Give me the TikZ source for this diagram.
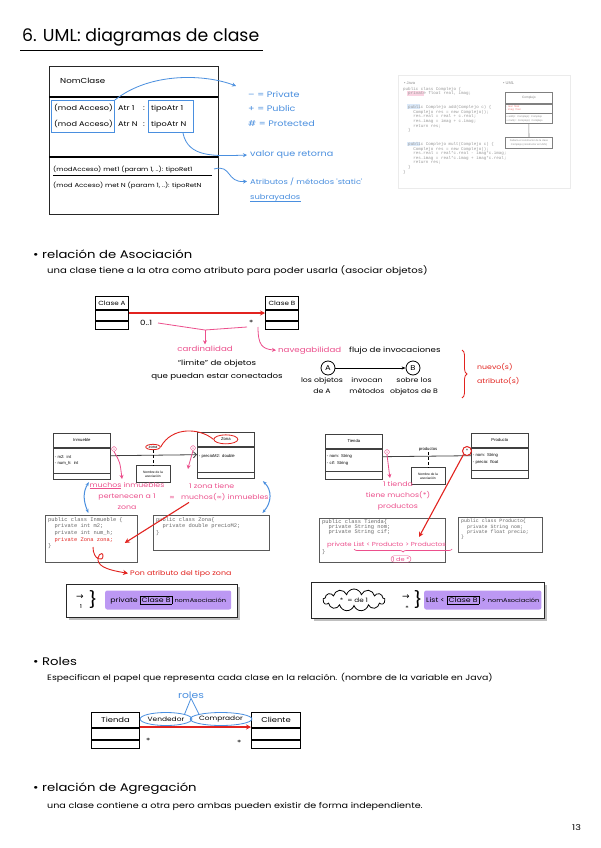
\documentclass[tikz,border=0pt]{standalone}
\usepackage{fontspec}
\setmainfont{Poppins}
\newfontfamily\hand[FakeStretch=1.2]{Poppins}
\newfontfamily\shot{Liberation Sans}
\newfontfamily\mono{Liberation Mono}
\newfontfamily\sym{DejaVu Sans}
\usetikzlibrary{arrows.meta,positioning,shapes.geometric,shapes.symbols,calc,decorations.pathreplacing}
\definecolor{nbblue}{HTML}{4A8FDF}
\definecolor{nbpink}{HTML}{EC4F8C}
\definecolor{nbred}{HTML}{E2231F}
\definecolor{nbpurple}{HTML}{BC98F3}
\setlength{\fboxsep}{1.2pt}
\setlength{\fboxrule}{0.6pt}

\begin{document}
\begin{tikzpicture}[
  x=1pt,y=-1pt,
  txt/.style={anchor=base west,inner sep=0pt,font=\hand\fontsize{7.2}{9}\selectfont},
  deftxt/.style={anchor=base west,inner sep=0pt,font=\hand\fontsize{8}{9}\selectfont},
  tiny/.style={inner sep=0pt,font=\hand\fontsize{6.5}{11}\selectfont},
  sect/.style={anchor=base west,inner sep=0pt,font=\hand\fontsize{11}{13}\selectfont},
  btxt/.style={anchor=base west,inner sep=0pt,text=nbblue,font=\hand\fontsize{8}{10}\selectfont},
  ptxt/.style={inner sep=0pt,text=nbpink,align=center,font=\hand\fontsize{6.5}{11}\selectfont},
  umlhead/.style={draw,line width=1pt,anchor=north west,minimum height=13pt,inner sep=1pt,font=\hand\fontsize{6}{8}\selectfont},
  umlcmp/.style={draw,line width=1pt,inner sep=0pt},
  shothead/.style={draw=black!75,line width=0.7pt,anchor=north west,minimum width=57pt,minimum height=14pt,inner sep=1pt,font=\shot\fontsize{4.2}{5}\selectfont},
  shotcmp/.style={draw=black!75,line width=0.7pt,minimum width=57pt,inner sep=1.5pt,text width=54pt,align=left,font=\shot\fontsize{4.2}{6.5}\selectfont},
  notebox/.style={draw=black!75,line width=0.6pt,minimum width=34pt,minimum height=17pt,inner sep=1pt,align=center,font=\shot\fontsize{3.3}{4.2}\selectfont},
  codebox/.style={draw=black!65,line width=0.8pt,anchor=north west,inner sep=0pt},
  codetxt/.style={anchor=north west,inner sep=0pt,align=left,text=black!60,font=\mono\fontsize{5.4}{6.7}\selectfont},
  panel/.style={draw=black!85,line width=0.9pt,anchor=north west},
  purp/.style={fill=nbpurple,rounded corners=2pt,minimum height=19pt,inner sep=2pt,font=\hand\fontsize{6.5}{8}\selectfont},
  barr/.style={draw=nbblue,line width=0.8pt,-{Stealth[length=4pt,width=4pt]}},
  parr/.style={draw=nbpink,line width=0.8pt,-{Stealth[length=4pt,width=4pt]}},
  rarr/.style={draw=nbred,line width=1.1pt,-{Stealth[length=5pt,width=5pt]}}
]
\fill[white] (0,0) rectangle (601,848);
\useasboundingbox (0,0) rectangle (601,848);

\node[anchor=base west,inner sep=0pt,font=\fontsize{17.3}{19}\selectfont] (title) at (22,42) {6. UML: diagramas de clase};
\draw[line width=1.2pt] (title.south west) ++(-2,4) -- ++(243,0);

\node[panel,minimum width=169pt,minimum height=148pt] (nomclase) at (49,66) {};
\node[txt] (nomname) at (60,84) {NomClase};
\draw[line width=1.8pt] (49,97) -- (218,97);
\draw[line width=1.8pt] (49,157) -- (218,157);
\node[txt,font=\hand\fontsize{6.8}{9}\selectfont] (acc1) at (54,111) {(mod Acceso)};
\node[txt,font=\hand\fontsize{6.8}{9}\selectfont] (atr1) at (118,111) {Atr 1};
\node[txt,font=\hand\fontsize{6.8}{9}\selectfont] (col1) at (143,111) {:};
\node[txt,font=\hand\fontsize{6.8}{9}\selectfont] (tip1) at (151,111) {tipoAtr 1};
\node[txt,font=\hand\fontsize{6.8}{9}\selectfont] (acc2) at (54,127) {(mod Acceso)};
\node[txt,font=\hand\fontsize{6.8}{9}\selectfont] (atr2) at (118,127) {Atr N};
\node[txt,font=\hand\fontsize{6.8}{9}\selectfont] (col2) at (143,127) {:};
\node[txt,font=\hand\fontsize{6.8}{9}\selectfont] (tip2) at (151,127) {tipoAtr N};
\node[draw=nbblue,line width=0.9pt,minimum width=63pt,minimum height=32pt,anchor=north west] (accbox) at (51,100) {};
\node[draw=nbblue,line width=0.9pt,minimum width=45pt,minimum height=32pt,anchor=north west] (tipbox) at (148,100) {};
\node[txt,font=\hand\fontsize{5.8}{7}\selectfont] (met1) at (53,171) {(modAcceso) met1 (param 1, ..): tipoRet1};
\draw[line width=0.6pt] (53,175) -- (212,175);
\node[txt,font=\hand\fontsize{5.8}{7}\selectfont] (metN) at (53,187) {(mod Acceso) met N (param 1, ..): tipoRetN};

\node[btxt] (lpriv) at (248,98) {– = Private};
\node[btxt] (lpub) at (248,112) {+ = Public};
\node[btxt] (lprot) at (248,126) {\# = Protected};
\coordinate (legin) at (236,86);
\draw[barr] (accbox.north east) .. controls (150,72) and (205,74) .. (legin);
\node[btxt] (retorna) at (250,157) {valor que retorna};
\draw[barr] ($(tipbox.south)+(12,0)$) .. controls (188,158) and (215,156) .. ([xshift=-3pt]retorna.west);
\node[btxt,font=\hand\fontsize{7}{9}\selectfont] (static) at (250,184) {Atributos / métodos 'static'};
\node[btxt,font=\hand\fontsize{7}{9}\selectfont] (subr) at (250,199) {subrayados};
\draw[nbblue,line width=0.6pt] (subr.south west) -- (subr.south east);
\draw[barr] (214,169) .. controls (232,164) and (226,183) .. ([xshift=-3pt]static.west);

\node[draw=black!8,minimum width=172pt,minimum height=113pt,anchor=north west] (javashot) at (398,75) {};
\fill[nbpink!25] (407,91) rectangle (424,96);
\fill[nbblue!20] (407,104.5) rectangle (420,109);
\fill[nbblue!20] (407,141.5) rectangle (420,146);
\node[anchor=base west,inner sep=0pt,text=black!45,font=\shot\fontsize{4}{5}\selectfont] (javalbl) at (404,85) {• Java};
\node[anchor=north west,inner sep=0pt,align=left,text=black!40,font=\mono\fontsize{4.2}{4.6}\selectfont] (javacode) at (403,87)
  {public class Complejo \{\\~~private float real, imag;\\~\\~\\~~public Complejo add(Complejo c) \{\\~~~~Complejo res = new Complejo();\\~~~~res.real = real + c.real;\\~~~~res.imag = imag + c.imag;\\~~~~return res;\\~~\}\\~\\~\\~~public Complejo mult(Complejo c) \{\\~~~~Complejo res = new Complejo();\\~~~~res.real = real*c.real - imag*c.imag;\\~~~~res.imag = real*c.imag + imag*c.real;\\~~~~return res;\\~~\}\\\}};
\node[anchor=base west,inner sep=0pt,text=black!45,font=\shot\fontsize{4}{5}\selectfont] (umllbl) at (503,85) {• UML};
\node[shothead,draw=black!50,text=black!50,minimum width=47pt,minimum height=11pt,font=\shot\fontsize{3.2}{4}\selectfont] (complejo) at (505,92) {Complejo};
\node[shotcmp,draw=black!50,minimum width=47pt,text width=45pt,inner sep=1pt,minimum height=9pt,below=0pt of complejo,text=nbred!60,font=\shot\fontsize{2.6}{3.2}\selectfont] (complejoA) {- real: float\\- imag: float};
\node[shotcmp,draw=black!50,minimum width=47pt,text width=45pt,inner sep=1pt,minimum height=10pt,below=0pt of complejoA,text=black!45,font=\shot\fontsize{2.6}{3.2}\selectfont] (complejoM) {+ add(c: Complejo): Complejo\\+ mult(c: Complejo): Complejo};
\node[notebox,draw=black!50,text=black!45,minimum width=47pt,minimum height=11pt,font=\shot\fontsize{2.6}{3.2}\selectfont,anchor=north] (complejonote) at (529,137) {Faltaría el constructor de la clase\\Complejo (constructor en UML)};
\draw[black!50,line width=0.6pt] (complejoM) -- (complejonote);

\node[sect] (asoc) at (33,258) {• relación de Asociación};
\node[deftxt,font=\hand\fontsize{8.4}{9}\selectfont] (asocdef) at (47,273) {una clase tiene a la otra como atributo para poder usarla (asociar objetos)};
\node[umlhead,minimum width=33pt] (claseA) at (95,296) {Clase A};
\node[umlcmp,minimum width=33pt,minimum height=10pt,below=0pt of claseA] (claseAattr) {};
\node[umlcmp,minimum width=33pt,minimum height=8pt,below=0pt of claseAattr] (claseAmet) {};
\node[umlhead,minimum width=33pt] (claseB) at (265,296) {Clase B};
\node[umlcmp,minimum width=33pt,minimum height=10pt,below=0pt of claseB] (claseBattr) {};
\node[umlcmp,minimum width=33pt,minimum height=8pt,below=0pt of claseBattr] (claseBmet) {};
\draw[rarr] ([yshift=-3pt]claseA.south east) -- ([yshift=-3pt]claseB.south west);
\node[txt] (cardA) at (140,325) {0..1};
\node[txt] (cardB) at (249,325) {*};
\coordinate (cardtip) at (205,330);
\draw[nbpink,line width=0.8pt] (158,323) -- (cardtip) -- (247,327);
\node[txt,text=nbpink,anchor=base] (cardlbl) at (205,351) {cardinalidad};
\draw[parr] (cardtip) -- ([yshift=1pt]cardlbl.north);
\node[txt,anchor=base] (limite) at (217,365) {“limite” de objetos};
\node[txt,anchor=base] (conect) at (217,378) {que puedan estar conectados};
\node[txt,text=nbpink] (naveg) at (278,352) {navegabilidad};
\node[txt] (flujo) at (349,352) {flujo de invocaciones};
\draw[parr] (258,327) .. controls (258,345) and (262,349) .. ([xshift=-2pt]naveg.west);
\node[circle,draw,line width=0.8pt,minimum size=14pt,inner sep=0pt,font=\hand\fontsize{7}{8}\selectfont] (objA) at (328,368) {A};
\node[circle,draw,line width=0.8pt,minimum size=14pt,inner sep=0pt,font=\hand\fontsize{7}{8}\selectfont] (objB) at (413,368) {B};
\draw[line width=0.8pt,-{Stealth[length=4pt]}] (objA) -- (objB);
\node[tiny,anchor=north,align=center] (losobj) at (322,377) {los objetos\\de A};
\node[tiny,anchor=north,align=center] (invocan) at (367,377) {invocan\\métodos};
\node[tiny,anchor=north,align=center] (sobre) at (414,377) {sobre los\\objetos de B};
\draw[nbred,line width=0.8pt,decorate,decoration={brace,amplitude=5pt}] (462,350) -- (462,398);
\node[txt,text=nbred,font=\hand\fontsize{6.5}{8}\selectfont] (nuevos) at (477,369) {nuevo(s)};
\node[txt,text=nbred,font=\hand\fontsize{6.5}{8}\selectfont] (atribs) at (477,383) {atributo(s)};

\node[shothead] (inmueble) at (53,433) {Inmueble};
\node[shotcmp,minimum height=25pt,below=0pt of inmueble] (inmuebleA) {- m2: int\\- num\_h: int};
\node[shotcmp,minimum height=6pt,below=0pt of inmuebleA] (inmuebleM) {};
\node[shothead] (zona) at (197,432) {Zona};
\node[shotcmp,minimum height=25pt,below=0pt of zona] (zonaA) {- precioM2: double\\~};
\node[shotcmp,minimum height=6pt,below=0pt of zonaA] (zonaM) {};
\node[ellipse,draw=nbred,line width=0.8pt,minimum width=24pt,minimum height=9pt,inner sep=0pt] (zonacirc) at (zona.center) {};
\draw[line width=0.8pt,black!75,-{Straight Barb[length=3pt]}] ($(inmuebleA.north east)+(0,8)$) -- ($(zonaA.north west)+(0,8)$);
\node[circle,draw=nbpink,inner sep=0.6pt,text=nbpink,font=\shot\fontsize{3.5}{4}\selectfont] (inm1) at (114,449) {1};
\node[circle,draw=nbpink,inner sep=0.6pt,text=nbpink,font=\shot\fontsize{3.5}{4}\selectfont] (zona1) at (193,448) {1};
\node[ellipse,draw=nbred,line width=0.8pt,inner sep=0.8pt,fill=white,font=\shot\fontsize{4}{5}\selectfont] (zonalbl) at (153,447) {zona};
\node[notebox] (zonanote) at (153,474) {Nombre de la\\asociación};
\draw[densely dashed,line width=0.6pt] (zonalbl) -- (zonanote);
\draw[nbred,line width=0.9pt] (zonalbl.east) .. controls (172,426) and (200,428) .. (zonacirc.west);
\draw[parr] (inm1.south) .. controls (120,462) .. (122,479);
\draw[parr] (zona1.south) .. controls (190,458) .. (188,469);
\node[ptxt,anchor=north] (muchos) at (127,482) {\underline{muchos} inmuebles\\pertenecen a 1\\zona};
\node[ptxt,anchor=base] (equiv) at (172,499) {\sym ∞};
\node[ptxt,anchor=base west] (zonatiene) at (189,488) {1 zona tiene};
\node[ptxt,anchor=base west] (zonamuchos) at (181,499) {muchos({\sym ∞}) inmuebles};
\node[codebox,minimum width=92pt,minimum height=47pt] (inmcode) at (45,515) {};
\node[codetxt] (inmcodetxt) at (48,517) {public class Inmueble \{\\~~private int m2;\\~~private int num\_h;\\\textcolor{nbred}{~~private Zona zona;}\\\}};
\node[codebox,minimum width=116pt,minimum height=35pt] (zcode) at (153,515) {};
\node[codetxt] (zcodetxt) at (156,517) {public class Zona\{\\~~private double precioM2;\\\}};
\draw[nbblue,line width=1pt,{Stealth[length=4pt]}-{Stealth[length=4pt]}] ($(inmuebleM.south)+(7,2)$) .. controls (83,492) and (83,500) .. ($(inmcode.north)+(-3,-2)$);
\draw[nbblue,line width=1pt,{Stealth[length=4pt]}-{Stealth[length=4pt]}] ($(zonaM.south)+(37,2)$) .. controls (272,490) and (272,502) .. ($(zcode.north)+(51,-2)$);
\draw[rarr] ($(zonamuchos.south west)+(8,2)$) -- ($(inmcode.east)+(-13,4)$);
\coordinate (curl) at (93,547);
\node[txt,text=nbred,font=\hand\fontsize{6.6}{8}\selectfont] (pontipo) at (130,575) {Pon atributo del tipo zona};
\draw[rarr,line width=0.9pt] (curl) .. controls (93,560) and (103,562) .. (103,556) .. controls (103,550) and (95,556) .. (99,563) .. controls (103,569) and (115,571) .. ([xshift=-2pt]pontipo.west);

\node[shothead] (tienda) at (325,434) {Tienda};
\node[shotcmp,minimum height=22pt,below=0pt of tienda] (tiendaA) {- nom: String\\- cif: String};
\node[shotcmp,minimum height=8pt,below=0pt of tiendaA] (tiendaM) {};
\node[shothead] (producto) at (471,433) {Producto};
\node[shotcmp,minimum height=22pt,below=0pt of producto] (productoA) {- nom: String\\- precio: float};
\node[shotcmp,minimum height=8pt,below=0pt of productoA] (productoM) {};
\draw[line width=0.8pt,black!75] ($(tiendaA.north east)+(0,8)$) -- ($(productoA.north west)+(0,8)$);
\node[font=\shot\fontsize{4.2}{5}\selectfont,inner sep=1pt,anchor=base] (prodlbl) at (428,450) {productos};
\node[notebox] (prodnote) at (428,476) {Nombre de la\\asociación};
\draw[densely dashed,line width=0.6pt] (prodlbl) -- (prodnote);
\node[circle,draw=nbpink,inner sep=0.6pt,text=nbpink,font=\shot\fontsize{3.5}{4}\selectfont] (tienda1) at (387,452) {1};
\node[circle,draw=nbred,line width=1pt,minimum size=9pt,inner sep=0pt,font=\shot\fontsize{5}{5}\selectfont] (prodstar) at (467,451) {*};
\draw[parr] (tienda1.south) .. controls (388,466) .. (390,478);
\node[ptxt,anchor=north] (tiendatiene) at (398,481) {1 tienda\\tiene muchos(*)\\productos};
\node[codebox,minimum width=126pt,minimum height=44pt] (tcode) at (319,518) {};
\node[codetxt,font=\mono\fontsize{5.4}{5.2}\selectfont] (tcodetxt) at (322,519) {public class Tienda\{\\~~private String nom;\\~~private String cif;};
\node[txt,text=nbpink,font=\hand\fontsize{5.8}{7}\selectfont] (listprod) at (327,546) {private List < Producto > Productos};
\node[codetxt] (tclose) at (322,549) {\}};
\draw[nbpink,line width=0.7pt,decorate,decoration={brace,amplitude=3pt,mirror}] (354,549) -- (452,549);
\node[txt,text=nbpink,font=\hand\fontsize{5.5}{7}\selectfont,anchor=base,draw=nbpink,rounded corners=3pt,inner sep=1.2pt] (unode) at (401,561) {1 de *};
\coordinate (listend) at (419,537);
\draw[rarr] (prodstar.south west) -- (listend);
\node[codebox,minimum width=84pt,minimum height=35pt] (pcode) at (458,517) {};
\node[codetxt,font=\mono\fontsize{4.9}{5.4}\selectfont] (pcodetxt) at (461,519) {public class Producto\{\\~~private String nom;\\~~private float precio;\\\}};

\node[panel,minimum width=171pt,minimum height=33pt] (privpanel) at (66,584) {};
\draw[black!25,line width=2pt] ($(privpanel.south west)+(3,1)$) -- ($(privpanel.south east)+(1,1)$) -- ($(privpanel.north east)+(1,3)$);
\node[inner sep=0pt,font=\sym\fontsize{9}{9}\selectfont] (arr1) at (80,597) {→};
\node[tiny,font=\hand\fontsize{5.5}{6}\selectfont] (one1) at (81,607) {1};
\node[inner sep=0pt,font=\hand\fontsize{16}{16}\selectfont] (br1) at (93,600) {\}};
\node[purp,minimum width=126pt,anchor=west] (privtag) at (105,600) {private \fbox{Clase B} {\fontsize{5.5}{6}\selectfont nomAsociación}};

\node[panel,minimum width=233pt,minimum height=36pt] (listpanel) at (311,582) {};
\draw[black!25,line width=2pt] ($(listpanel.south west)+(3,1)$) -- ($(listpanel.south east)+(1,1)$) -- ($(listpanel.north east)+(1,3)$);
\node[cloud,draw,line width=0.8pt,cloud puffs=13,aspect=3,minimum width=62pt,minimum height=22pt,inner sep=0pt,font=\hand\fontsize{6}{7}\selectfont] (cloudnote) at (354,600) {*~~= de 1};
\node[inner sep=0pt,font=\sym\fontsize{9}{9}\selectfont] (arr2) at (406,597) {→};
\node[tiny,font=\hand\fontsize{6}{6}\selectfont] (star2) at (407,608) {*};
\node[inner sep=0pt,font=\hand\fontsize{16}{16}\selectfont] (br2) at (418,600) {\}};
\node[purp,minimum width=112pt,anchor=west] (listtag) at (424,600) {List < \fbox{Clase B} > {\fontsize{5.5}{6}\selectfont nomAsociación}};

\node[sect] (roles) at (33,665) {• Roles};
\node[deftxt,font=\hand\fontsize{7.8}{9}\selectfont] (rolesdef) at (47,680) {Especifican el papel que representa cada clase en la relación. (nombre de la variable en Java)};
\node[inner sep=0pt,text=nbblue,anchor=base,font=\hand\fontsize{9}{10}\selectfont] (roleslbl) at (191,698) {roles};
\node[umlhead,minimum width=48pt,minimum height=15pt,font=\hand\fontsize{7}{9}\selectfont] (tiendaR) at (91,712) {Tienda};
\node[umlcmp,minimum width=48pt,minimum height=11pt,below=0pt of tiendaR] (tiendaRattr) {};
\node[umlcmp,minimum width=48pt,minimum height=8pt,below=0pt of tiendaRattr] (tiendaRmet) {};
\node[umlhead,minimum width=49pt,minimum height=15pt,font=\hand\fontsize{7}{9}\selectfont] (clienteR) at (251,712) {Cliente};
\node[umlcmp,minimum width=49pt,minimum height=11pt,below=0pt of clienteR] (clienteRattr) {};
\node[umlcmp,minimum width=49pt,minimum height=8pt,below=0pt of clienteRattr] (clienteRmet) {};
\draw[rarr] ([yshift=1pt]tiendaR.south east) -- ([yshift=1pt]clienteR.south west);
\node[ellipse,draw=nbblue,line width=0.8pt,inner sep=0pt,minimum height=13pt,font=\hand\fontsize{6.2}{8}\selectfont] (vendedor) at (166,719) {Vendedor};
\node[ellipse,draw=nbblue,line width=0.8pt,inner sep=0pt,minimum height=13pt,font=\hand\fontsize{6.2}{8}\selectfont] (comprador) at (221,719) {Comprador};
\draw[nbblue,line width=0.8pt] (vendedor.north east) -- (roleslbl.south) -- (comprador.north west);
\node[txt] (starT) at (146,743) {*};
\node[txt] (starC) at (237,745) {*};

\node[sect] (agreg) at (33,791) {• relación de Agregación};
\node[deftxt] (agregdef) at (47,808) {una clase contiene a otra pero ambas pueden existir de forma independiente.};
\node[txt,font=\hand\fontsize{8}{9}\selectfont] (pagenum) at (572,830) {13};
\end{tikzpicture}
\end{document}
